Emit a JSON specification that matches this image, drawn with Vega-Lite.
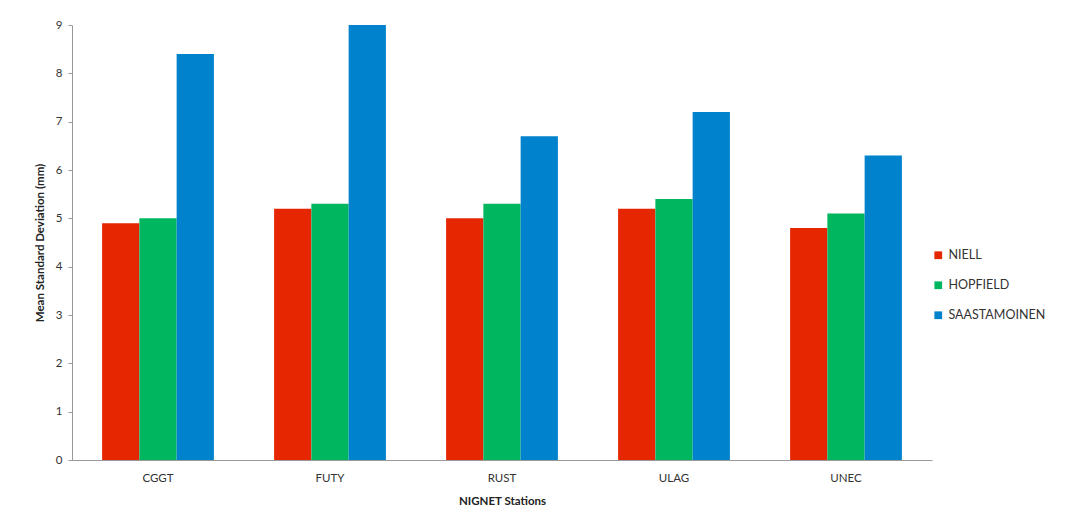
{
  "$schema": "https://vega.github.io/schema/vega-lite/v6.json",
  "width": 860,
  "height": 435,
  "autosize": {"type": "none"},
  "padding": {"left": 72, "top": 25, "right": 151, "bottom": 68},
  "background": "white",
  "config": {
    "view": {"stroke": null},
    "font": "Lato",
    "axis": {"labelFont": "Lato", "titleFont": "Lato", "labelColor": "#333", "titleColor": "#222", "domainColor": "#999", "tickColor": "#999", "grid": false}
  },
  "data": {
    "values": [
      {"station": "CGGT", "model": "NIELL", "value": 4.9},
      {"station": "CGGT", "model": "HOPFIELD", "value": 5.0},
      {"station": "CGGT", "model": "SAASTAMOINEN", "value": 8.4},
      {"station": "FUTY", "model": "NIELL", "value": 5.2},
      {"station": "FUTY", "model": "HOPFIELD", "value": 5.3},
      {"station": "FUTY", "model": "SAASTAMOINEN", "value": 9.0},
      {"station": "RUST", "model": "NIELL", "value": 5.0},
      {"station": "RUST", "model": "HOPFIELD", "value": 5.3},
      {"station": "RUST", "model": "SAASTAMOINEN", "value": 6.7},
      {"station": "ULAG", "model": "NIELL", "value": 5.2},
      {"station": "ULAG", "model": "HOPFIELD", "value": 5.4},
      {"station": "ULAG", "model": "SAASTAMOINEN", "value": 7.2},
      {"station": "UNEC", "model": "NIELL", "value": 4.8},
      {"station": "UNEC", "model": "HOPFIELD", "value": 5.1},
      {"station": "UNEC", "model": "SAASTAMOINEN", "value": 6.3}
    ]
  },
  "mark": {"type": "bar"},
  "encoding": {
    "x": {
      "field": "station", "type": "nominal", "sort": null,
      "scale": {"paddingInner": 0.35, "paddingOuter": 0.175},
      "axis": {"title": "NIGNET Stations", "labelAngle": 0, "ticks": false, "labelFontSize": 11.5, "labelPadding": 12, "titleFontSize": 11.5, "titleFontWeight": "bold", "titlePadding": 12}
    },
    "xOffset": {"field": "model", "type": "nominal", "sort": ["NIELL", "HOPFIELD", "SAASTAMOINEN"], "scale": {"paddingInner": 0, "paddingOuter": 0}},
    "y": {
      "field": "value", "type": "quantitative",
      "scale": {"domain": [0, 9], "nice": false},
      "axis": {"title": "Mean Standard Deviation (mm)", "values": [0,1,2,3,4,5,6,7,8,9], "labelOverlap": false, "tickSize": 4, "labelFontSize": 11.5, "labelPadding": 6, "titleFontSize": 11.5, "titleFontWeight": "bold", "titlePadding": 10}
    },
    "color": {
      "field": "model", "type": "nominal",
      "sort": ["NIELL", "HOPFIELD", "SAASTAMOINEN"],
      "scale": {"domain": ["NIELL", "HOPFIELD", "SAASTAMOINEN"], "range": ["#E52600", "#00B65E", "#0082CC"]},
      "legend": {"title": null, "orient": "none", "legendX": 860, "legendY": 224, "symbolType": "square", "symbolSize": 60, "symbolOffset": 0, "labelOffset": 4, "rowPadding": 17, "labelFontSize": 12.5, "labelColor": "#333", "labelFont": "Lato"}
    }
  }
}
